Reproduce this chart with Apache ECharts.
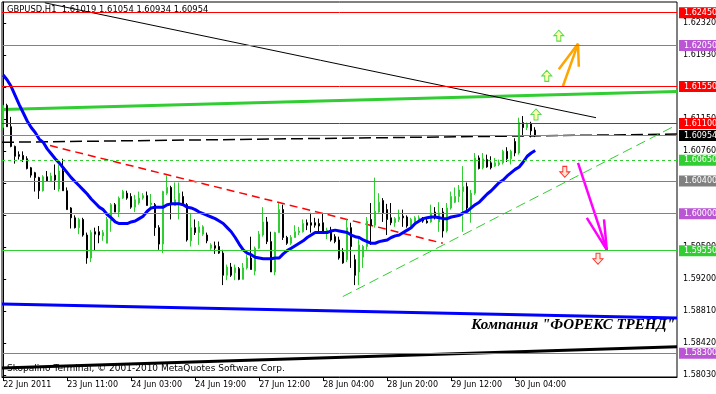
<!DOCTYPE html>
<html><head><meta charset="utf-8">
<script src="https://cdn.jsdelivr.net/npm/echarts@6/dist/echarts.min.js"></script>
<style>html,body{margin:0;padding:0;background:#fff}#c{width:716px;height:394px}</style>
</head><body><div id="c"></div>
<script>
// ---- data (H1 bars, index 0..133) ----
const openP = [1.6105,1.6132,1.6106,1.6082,1.6072,1.6071,1.6067,1.6056,1.6050,1.6044,
1.6028,1.6045,1.6040,1.6047,1.6030,1.6052,1.6028,1.6007,1.5995,1.5983,
1.5993,1.5974,1.5946,1.5978,1.5978,1.5973,1.5964,1.5991,1.6011,1.6002,
1.6019,1.6025,1.6021,1.6008,1.6013,1.6019,1.6022,1.6011,1.6011,1.5983,
1.5963,1.6025,1.6032,1.6010,1.6013,1.6021,1.6011,1.5967,1.5983,1.5977,
1.5975,1.5974,1.5958,1.5961,1.5960,1.5952,1.5925,1.5935,1.5928,1.5933,
1.5920,1.5934,1.5946,1.5930,1.5958,1.5974,1.5990,1.5966,1.5929,1.5977,
1.6005,1.5971,1.5964,1.5971,1.5977,1.5978,1.5989,1.5989,1.5989,1.5988,
1.5989,1.5978,1.5980,1.5972,1.5968,1.5953,1.5944,1.5983,1.5944,1.5929,
1.5947,1.5960,1.5993,1.5986,1.6002,1.6016,1.6005,1.5995,1.5989,1.5993,
1.5997,1.5996,1.5985,1.5990,1.5993,1.5994,1.5991,1.5990,1.6002,1.5990,
1.6002,1.5979,1.6007,1.6014,1.6021,1.6027,1.6033,1.6007,1.6025,1.6068,
1.6056,1.6066,1.6062,1.6058,1.6060,1.6062,1.6076,1.6067,1.6088,1.6074,
1.6111,1.6105,1.6110,1.61019];
const closeP = [1.6132,1.6106,1.6082,1.6070,1.6070,1.6066,1.6055,1.6047,1.6044,1.6028,
1.6045,1.6040,1.6046,1.6041,1.6052,1.6028,1.6005,1.5995,1.5983,1.5993,
1.5974,1.5946,1.5977,1.5975,1.5974,1.5977,1.5993,1.6011,1.6002,1.6019,
1.6027,1.6019,1.6008,1.6017,1.6019,1.6022,1.6010,1.6013,1.5983,1.5963,
1.6027,1.6032,1.6011,1.6017,1.6025,1.6011,1.5968,1.5983,1.5977,1.5984,
1.5984,1.5967,1.5962,1.5958,1.5952,1.5925,1.5935,1.5925,1.5934,1.5920,
1.5934,1.5946,1.5932,1.5958,1.5975,1.5990,1.5966,1.5929,1.5977,1.6005,
1.5971,1.5964,1.5971,1.5978,1.5979,1.5988,1.5986,1.5986,1.5986,1.5985,
1.5978,1.5980,1.5968,1.5966,1.5946,1.5940,1.5983,1.5960,1.5925,1.5962,
1.5960,1.5991,1.5986,1.6003,1.6014,1.6001,1.5993,1.5989,1.5994,1.5996,
1.5995,1.5985,1.5993,1.5995,1.5995,1.5991,1.5989,1.6001,1.5995,1.6001,
1.5979,1.6007,1.6021,1.6021,1.6029,1.6033,1.6007,1.6025,1.6068,1.6055,
1.6067,1.6057,1.6056,1.6062,1.6062,1.6076,1.6067,1.6076,1.6074,1.6111,
1.6105,1.6109,1.6101,1.60954];
const lowP = [1.6102,1.6106,1.6081,1.6061,1.6066,1.6063,1.6054,1.6044,1.6027,1.6018,
1.6027,1.6040,1.6040,1.6029,1.6027,1.6028,1.6005,1.5982,1.5982,1.5975,
1.5972,1.5939,1.5941,1.5955,1.5964,1.5967,1.5964,1.5978,1.6002,1.5996,
1.6018,1.6017,1.6006,1.6002,1.6011,1.6017,1.6010,1.6008,1.5973,1.5956,
1.5952,1.6023,1.5993,1.6010,1.5993,1.6011,1.5966,1.5960,1.5974,1.5962,
1.5973,1.5964,1.5956,1.5951,1.5951,1.5913,1.5919,1.5923,1.5919,1.5919,
1.5920,1.5932,1.5932,1.5925,1.5957,1.5972,1.5963,1.5929,1.5925,1.5977,
1.5968,1.5962,1.5962,1.5971,1.5974,1.5977,1.5980,1.5977,1.5983,1.5978,
1.5978,1.5969,1.5966,1.5964,1.5944,1.5939,1.5941,1.5934,1.5913,1.5913,
1.5934,1.5956,1.5962,1.5983,1.6001,1.5990,1.5974,1.5986,1.5984,1.5990,
1.5984,1.5983,1.5984,1.5989,1.5990,1.5989,1.5988,1.5989,1.5993,1.5978,
1.5971,1.5977,1.6005,1.6013,1.6014,1.5978,1.6002,1.5989,1.6023,1.6054,
1.6054,1.6056,1.6054,1.6057,1.6058,1.6060,1.6063,1.6060,1.6070,1.6072,
1.6094,1.6102,1.6093,1.60934];
const highP = [1.6133,1.6134,1.6118,1.6083,1.6076,1.6076,1.6070,1.6057,1.6051,1.6045,
1.6047,1.6052,1.6050,1.6060,1.6060,1.6067,1.6032,1.6008,1.5998,1.5995,
1.5995,1.5977,1.5980,1.5983,1.5985,1.5980,1.5996,1.6013,1.6013,1.6021,
1.6029,1.6028,1.6025,1.6023,1.6027,1.6025,1.6027,1.6024,1.6013,1.5986,
1.6028,1.6047,1.6034,1.6038,1.6038,1.6027,1.6013,1.6001,1.5993,1.5991,
1.5986,1.5977,1.5964,1.5966,1.5966,1.5956,1.5938,1.5940,1.5938,1.5935,
1.5940,1.5950,1.5972,1.5960,1.5979,1.6008,1.5996,1.5978,1.5978,1.6013,
1.6011,1.5973,1.5974,1.5986,1.5984,1.5993,1.5993,1.6001,1.5995,1.5994,
1.6001,1.5983,1.5984,1.5975,1.5972,1.5958,1.5993,1.5989,1.5950,1.5971,
1.5962,1.5996,1.6013,1.6044,1.6025,1.6019,1.6012,1.6013,1.5996,1.6005,
1.6005,1.5998,1.5995,1.5997,1.5998,1.5996,1.5995,1.6011,1.6008,1.6014,
1.6007,1.6013,1.6027,1.6032,1.6035,1.6058,1.6038,1.6029,1.6074,1.6071,
1.6074,1.6072,1.6070,1.6068,1.6066,1.6078,1.6081,1.6078,1.6092,1.6117,
1.6119,1.6111,1.6112,1.61054];
const maP = [1.6169,1.6163,1.6155,1.6144,1.6133,1.6123,1.6113,1.6105,1.6099,1.6091,
1.6087,1.6079,1.6073,1.6067,1.6062,1.6056,1.6050,1.6044,1.6039,1.6034,
1.6029,1.6024,1.6018,1.6013,1.6008,1.6005,1.5999,1.5995,1.5990,1.5988,
1.5988,1.5988,1.5990,1.5991,1.5994,1.5997,1.6003,1.6007,1.6008,1.6008,
1.6008,1.6011,1.6012,1.6012,1.6012,1.6011,1.6008,1.6007,1.6005,1.6002,
1.6000,1.5998,1.5996,1.5994,1.5991,1.5988,1.5983,1.5978,1.5971,1.5963,
1.5956,1.5952,1.5950,1.5947,1.5946,1.5945,1.5945,1.5945,1.5946,1.5946,
1.5951,1.5955,1.5958,1.5961,1.5964,1.5967,1.5971,1.5974,1.5977,1.5977,
1.5977,1.5977,1.5979,1.5980,1.5979,1.5978,1.5977,1.5974,1.5972,1.5971,
1.5968,1.5966,1.5964,1.5964,1.5966,1.5967,1.5968,1.5971,1.5973,1.5974,
1.5977,1.5980,1.5983,1.5988,1.5991,1.5994,1.5995,1.5996,1.5996,1.5995,
1.5994,1.5994,1.5996,1.5997,1.5998,1.6001,1.6003,1.6007,1.6011,1.6014,
1.6019,1.6024,1.6028,1.6033,1.6038,1.6041,1.6046,1.6050,1.6054,1.6057,
1.6063,1.6070,1.6074,1.6077];

// horizontal levels
const levelValues = [1.62450, 1.62050, 1.61550, 1.61100, 1.60954, 1.60650, 1.60400, 1.60000, 1.59550, 1.58300];
// trend lines: [barIndex, price] endpoints
const trendBlackThin = [[10.4, 1.6257], [148.2, 1.6117]];
const trendGreenThick = [[-0.3, 1.6127], [168.45, 1.6149]];
const trendBlueBottom = [[-0.3, 1.5890], [168.45, 1.5873]];
const trendBlackBottom = [[-0.3, 1.5812], [168.45, 1.5838]];
const trendBlackDash = [[-0.3, 1.6087], [168.45, 1.6097]];
const trendRedDash = [[11.7, 1.6083], [109.9, 1.5964]];
const trendGreenDash = [[84.9, 1.5899], [167.9, 1.6107]];
const orangeA = [[138.9, 1.6176], [143.7, 1.6207], [143.9, 1.6179]];
const orangeB = [[139.9, 1.6155], [143.7, 1.6207]];
const magentaA = [[143.7, 1.6062], [150.9, 1.5956]];
const magentaB = [[145.9, 1.5995], [150.9, 1.5956], [150.2, 1.5993]];
const arrowsUp = [[138.9, 1.6217], [135.9, 1.6168], [133.2, 1.6121]];
const arrowsDown = [[140.4, 1.6051], [148.7, 1.5945]];

// axis ticks
const priceTicks = [1.62320, 1.61930, 1.61540, 1.61150, 1.60760, 1.60370, 1.59980, 1.59590, 1.59200, 1.58810, 1.58420, 1.58030];
const timeTickBars = [0, 16, 32, 48, 64, 80, 96, 112, 128];
const timeLabels = ['22 Jun 2011', '23 Jun 11:00', '24 Jun 03:00', '24 Jun 19:00', '27 Jun 12:00', '28 Jun 04:00', '28 Jun 20:00', '29 Jun 12:00', '30 Jun 04:00'];
const titleText = 'GBPUSD,H1  1.61019 1.61054 1.60934 1.60954';

// ---- styles ----
const GREEN = '#32cd32', RED = '#ff0000', PURPLE = '#ba55d3', GRAY = '#808080', SLATE = '#778899';
const levelStyle = [
  {c: RED, t: 'solid', bg: RED},
  {c: PURPLE, t: 'solid', bg: PURPLE},
  {c: RED, t: 'solid', bg: RED},
  {c: RED, t: 'solid', bg: RED},
  {c: SLATE, t: 'solid', bg: '#000'},
  {c: GREEN, t: [3, 3], bg: GREEN},
  {c: GRAY, t: 'solid', bg: GRAY},
  {c: PURPLE, t: 'solid', bg: PURPLE},
  {c: GREEN, t: 'solid', bg: GREEN},
  {c: PURPLE, t: 'solid', bg: PURPLE}
];
const FONT = 'DejaVu Sans';

const candles = openP.map((o, i) => [i, o, closeP[i], lowP[i], highP[i]]);
const maData = maP.map((v, i) => [i, v]);

function seg(data, color, width, type, z) {
  return {type: 'line', data: data, showSymbol: false, symbol: 'none', silent: true, z: z || 1,
    lineStyle: {color: color, width: width, type: type || 'solid'}, clip: true};
}

const chart = echarts.init(document.getElementById('c'));
chart.setOption({
  animation: false,
  backgroundColor: '#fff',
  grid: {left: 2, right: 39, top: 2, bottom: 17, show: true, borderColor: '#000', borderWidth: 1,
    outerBoundsMode: 'none', containLabel: false},
  xAxis: {
    type: 'value', min: -0.3, max: 168.45,
    axisLine: {show: true, lineStyle: {color: '#000', width: 1}},
    splitLine: {show: false},
    axisTick: {show: true, customValues: timeTickBars, length: 4, lineStyle: {color: '#000'}},
    axisLabel: {customValues: timeTickBars, formatter: v => timeLabels[timeTickBars.indexOf(v)],
      align: 'left', margin: 4, fontSize: 8, fontFamily: FONT, color: '#000'}
  },
  yAxis: {
    type: 'value', position: 'right', min: 1.5801, max: 1.6258,
    axisLine: {show: true, lineStyle: {color: '#000', width: 1}},
    splitLine: {show: false},
    axisTick: {show: true, customValues: priceTicks, length: 3, lineStyle: {color: '#000'}},
    axisLabel: {customValues: priceTicks, formatter: v => v.toFixed(5), margin: 6,
      fontSize: 8, fontFamily: FONT, color: '#000'}
  },
  series: [
    Object.assign(seg(trendGreenThick, GREEN, 3, 'solid', 1), {
      markLine: {
        silent: true, symbol: ['none', 'none'], animation: false, precision: 5,
        data: levelValues.map((v, k) => ({
          yAxis: v,
          lineStyle: {color: levelStyle[k].c, type: levelStyle[k].t, width: 1},
          label: {show: true, position: 'end', formatter: v.toFixed(5), distance: 2,
            backgroundColor: levelStyle[k].bg, color: '#fff', fontSize: 8, fontFamily: FONT,
            padding: [2, 3, 1, 5]}
        }))
      }
    }),
    seg(trendBlackThin, '#000', 1),
    seg(trendBlueBottom, '#0000ff', 3),
    seg(trendBlackBottom, '#000', 3),
    seg(trendBlackDash, '#000', 1.5, [12, 5]),
    seg(trendRedDash, RED, 1.5, [8, 5]),
    seg(trendGreenDash, GREEN, 1, [10, 5]),
    {
      type: 'candlestick', data: candles, barWidth: 2, z: 3, silent: true,
      itemStyle: {color: GREEN, color0: '#000', borderColor: GREEN, borderColor0: '#000', borderWidth: 1}
    },
    seg(maData, '#0000ff', 3, 'solid', 4),
    seg(orangeA, '#ffa500', 2.5, 'solid', 4),
    seg(orangeB, '#ffa500', 2.5, 'solid', 4),
    seg(magentaA, '#ff00ff', 2.5, 'solid', 4),
    seg(magentaB, '#ff00ff', 2.5, 'solid', 4),
    {type: 'scatter', data: arrowsUp, z: 5, silent: true,
      symbol: 'path://M5,0L10,5.5L7,5.5L7,11L3,11L3,5.5L0,5.5Z', symbolSize: [10, 11],
      itemStyle: {color: '#ffff99', borderColor: GREEN, borderWidth: 1}},
    {type: 'scatter', data: arrowsDown, z: 5, silent: true,
      symbol: 'path://M3,0L7,0L7,5.5L10,5.5L5,11L0,5.5L3,5.5Z', symbolSize: [10, 11],
      itemStyle: {color: '#ffe4cc', borderColor: RED, borderWidth: 1}}
  ],
  graphic: [
    {type: 'text', left: 7, top: 6, z: 10, style: {text: titleText, font: '8.4px "DejaVu Sans"', fill: '#000'}},
    {type: 'text', left: 7, top: 364, z: 10, style: {text: 'Skopalino Terminal, © 2001-2010 MetaQuotes Software Corp.', font: '9px "DejaVu Sans"', fill: '#000'}},
    {type: 'text', right: 41, top: 318, z: 10, style: {text: 'Компания "ФОРЕКС ТРЕНД"', font: 'italic bold 15px "Liberation Serif"', fill: '#000'}}
  ]
});
</script>
</body></html>
